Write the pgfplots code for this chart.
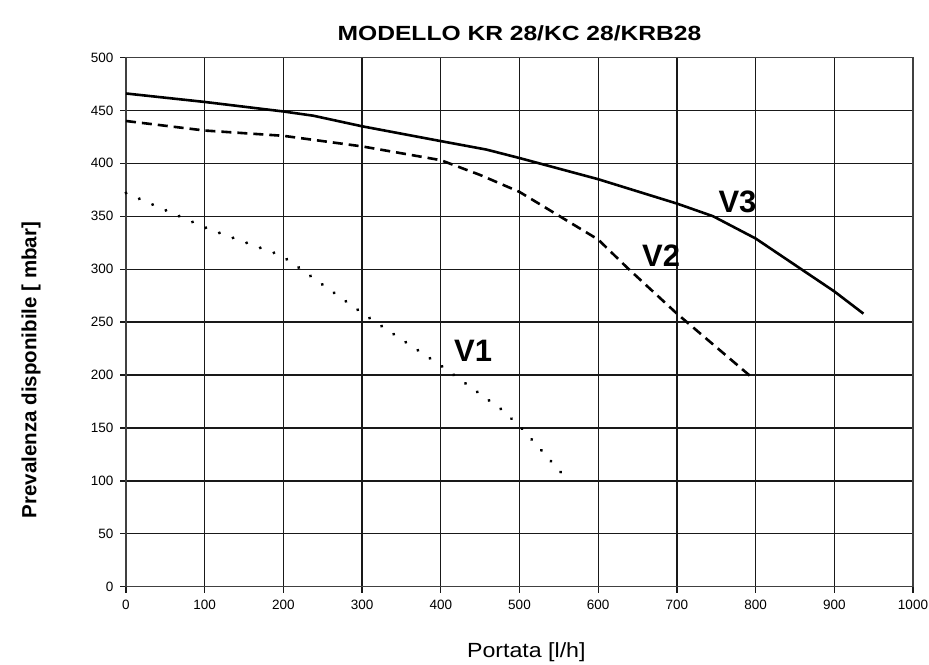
\documentclass[border=0pt]{standalone}
\usepackage{fontspec}
\setmainfont{Liberation Sans}
\newfontfamily\widefont{Liberation Sans}[FakeStretch=1.2]
\newfontfamily\midfont{Liberation Sans}[FakeStretch=1.13]
\usepackage{pgfplots}
\pgfplotsset{compat=1.18}
\begin{document}
\begin{tikzpicture}
\path[use as bounding box] (-126pt,-77.3pt) rectangle (803pt,586.7pt);
\begin{axis}[
  at={(0pt,0pt)}, anchor=south west, scale only axis,
  width=787pt, height=529.2pt,
  xmin=0, xmax=1000, ymin=0, ymax=500,
  xtick={0,100,...,1000}, ytick={0,50,...,500},
  grid=major, grid style={line width=1.35pt, color=black!90},
  axis line style={line width=1.5pt, color=black!75},
  tick align=outside, major tick length=6pt,
  tick style={line width=1.3pt, color=black!90},
  tick pos=left,
  /pgf/number format/assume math mode=true,
  /pgf/number format/set thousands separator={},
  tick label style={font=\fontsize{13.5}{15}\selectfont},
  xticklabel style={yshift=-4pt},
  yticklabel style={xshift=-3pt},
  clip=false,
]
\addplot[black, line width=2.6pt] coordinates {
  (0,466) (100,458) (200,449) (238,445) (300,435) (400,421) (458,413)
  (500,405) (600,385) (700,362) (746,350) (800,329) (900,279) (937,258)
};
\addplot[black, line width=2.6pt, dash pattern=on 10pt off 6pt] coordinates {
  (0,440) (100,431) (200,426) (300,416) (400,403) (450,389) (500,373)
  (600,328) (636,302) (700,258) (798,196)
};
\addplot[black, line width=3.4pt, line cap=round, dash pattern=on 0.01pt off 14.5pt] coordinates {
  (0,372) (105,338) (197,313) (213,305) (305,256) (400,209) (478,167)
  (505,148) (555,106)
};
\node[font=\bfseries\fontsize{31}{31}\selectfont] at (axis cs:777,364) {V3};
\node[font=\bfseries\fontsize{31}{31}\selectfont] at (axis cs:680,313) {V2};
\node[font=\bfseries\fontsize{31}{31}\selectfont] at (axis cs:441,223) {V1};
\node[anchor=base, font=\widefont\bfseries\fontsize{20.5}{22}\selectfont] at ([yshift=17pt]rel axis cs:0.5,1) {MODELLO KR 28/KC 28/KRB28};
\node[anchor=base, font=\midfont\fontsize{20.5}{22}\selectfont] at ([yshift=-70.6pt]rel axis cs:0.5087,0) {Portata [l/h]};
\node[rotate=90, font=\bfseries\fontsize{20.5}{22}\selectfont] at (rel axis cs:-0.1207,0.4095) {Prevalenza disponibile [ mbar]};
\end{axis}
\end{tikzpicture}
\end{document}
